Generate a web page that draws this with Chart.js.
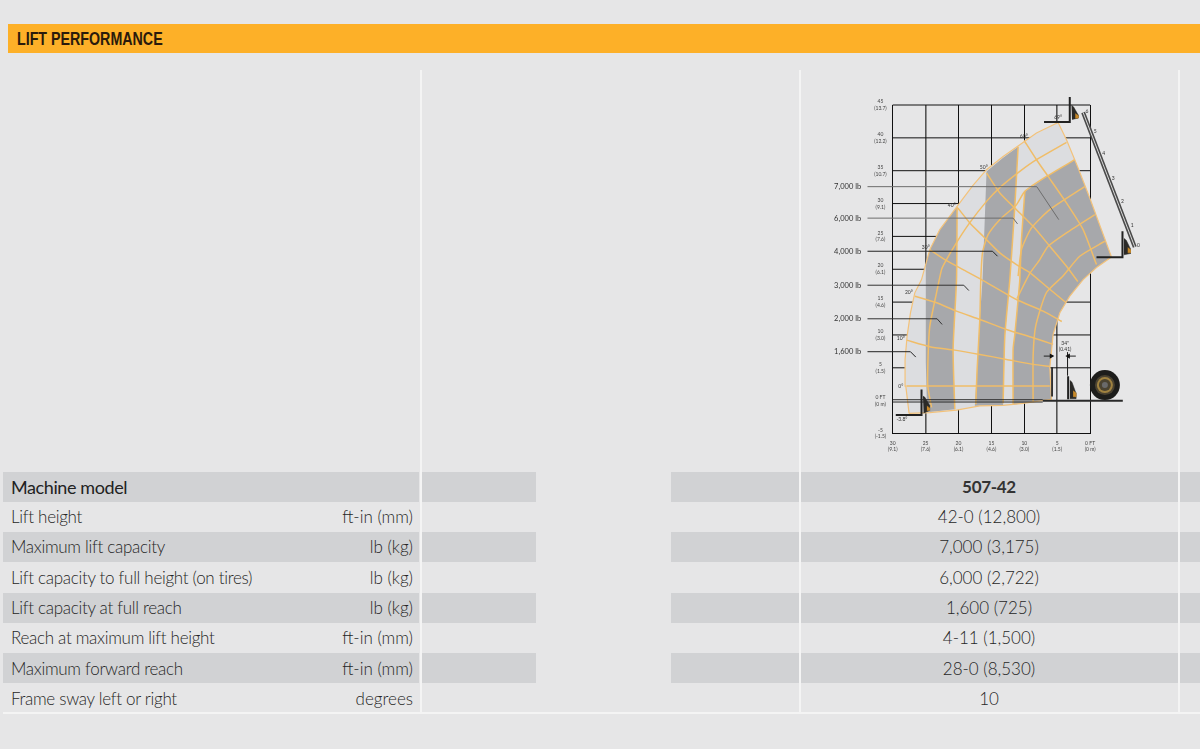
<!DOCTYPE html>
<html>
<head>
<meta charset="utf-8">
<style>
  html, body { margin: 0; padding: 0; width: 1200px; height: 749px; overflow: hidden; background: #e6e6e7; }
  #page { position: relative; width: 1200px; height: 749px; font-family: Lato, sans-serif; color: #262626; }
  #page div { position: absolute; white-space: nowrap; }
  .title { left: 8px; top: 24px; width: 1192px; height: 29px; background: #fdb028; }
  .title span { position: absolute; left: 9px; top: 4px; font: bold 19px "Liberation Sans", sans-serif; color: #2a1a0c; transform: scaleX(0.75); transform-origin: left center; }
  .stripe { background: #d1d2d4; height: 30px; }
  .vline { background: #f4f4f4; width: 2px; top: 70px; height: 643px; }
  canvas { position: absolute; left: 820px; top: 90px; }
</style>
<script src="https://cdn.jsdelivr.net/npm/chart.js@4"></script>
</head>
<body>
<div id="page">
  <div class="title"><span>LIFT PERFORMANCE</span></div>
  <canvas id="liftChart" width="380" height="370"></canvas>
</div>
<script>
// spec table
const rowLabels = ['Machine model', 'Lift height', 'Maximum lift capacity', 'Lift capacity to full height (on tires)',
    'Lift capacity at full reach', 'Reach at maximum lift height', 'Maximum forward reach', 'Frame sway left or right'];
const rowUnits = ['', 'ft-in (mm)', 'lb (kg)', 'lb (kg)', 'lb (kg)', 'ft-in (mm)', 'ft-in (mm)', 'degrees'];
const rowValues = ['507-42', '42-0 (12,800)', '7,000 (3,175)', '6,000 (2,722)', '1,600 (725)', '4-11 (1,500)', '28-0 (8,530)', '10'];

// axis ticks, feet with metres below
const xTickFeet = [30, 25, 20, 15, 10, 5, 0];
const xTickTop = ['30', '25', '20', '15', '10', '5', '0 FT'];
const xTickBottom = ['(9.1)', '(7.6)', '(6.1)', '(4.6)', '(3.0)', '(1.5)', '(0 m)'];
const yTickFeet = [45, 40, 35, 30, 25, 20, 15, 10, 5, 0, -5];
const yTickTop = ['45', '40', '35', '30', '25', '20', '15', '10', '5', '0 FT', '-5'];
const yTickBottom = ['(13.7)', '(12.2)', '(10.7)', '(9.1)', '(7.6)', '(6.1)', '(4.6)', '(3.0)', '(1.5)', '(0 m)', '(-1.5)'];

// all shapes below are [reach ft, height ft]
const envelope = [[27.51,-1.93],[28.01,2.22],[28.12,6.28],[27.81,9.82],[27.30,13.37],[26.64,16.41],[25.62,18.43],[24.36,22.99],
    [22.84,26.03],[20.21,29.57],[17.83,32.72],[15.74,35.15],[13.22,37.17],[10.68,38.95],[8.15,40.73],[4.86,42.34],
    [3.59,39.71],[1.82,35.41],[0.05,30.85],[-3.25,21.85],[-0.97,20.26],[1.06,18.43],[3.09,15.9],[4.6,13.37],[5.62,10.08],
    [6.12,5.02],[5.87,0.2],[10.18,-0.41],[13.22,-0.71],[16.76,-0.79],[20.3,-1.43],[24.36,-1.82]];
const band1 = [[24.97,20.71],[24.36,22.99],[22.84,26.03],[20.21,29.53],[20.3,18.43],[20.82,7.8],[20.56,-1.32],[24.77,-1.78],[24.97,5.82]];
const band2 = [[15.74,34.89],[13.22,36.98],[10.94,38.65],[11.44,29.57],[12.2,18.43],[12.96,9.82],[13.22,-0.71],[17.52,-0.79],[17.17,4.76],[16.76,12.36],[16.35,18.43]];
const band3 = [[9.92,31.85],[6.63,34.13],[2.33,36.67],[1.82,35.41],[0.05,30.85],[-3.25,21.85],[-0.97,20.26],[1.06,18.43],[3.09,15.9],[4.6,13.37],
    [5.62,10.08],[6.12,5.02],[5.87,0.2],[11.7,-0.64],[11.7,7.8],[11.44,10.08],[10.94,15.4],[10.68,18.43],[10.43,24.51]];

// boom angle lines
const angleLines = [
    [[27.9,2.22],[6.12,2.22]],
    [[27.9,9.21],[24.36,8.21],[20.56,7.69],[16.76,7.04],[12.71,6.28],[8.66,5.52],[6.12,5.21]],
    [[26.64,15.9],[23.34,14.89],[20.3,13.62],[16.76,12.36],[12.71,10.84],[8.66,9.57],[5.62,8.56]],
    [[24.36,22.99],[22.08,21.47],[19.3,19.95],[16.5,18.43],[11.19,15.4],[7.14,13.62],[4.3,12.05]],
    [[20.11,29.33],[18.28,27.05],[16.26,25.02],[13.72,22.49],[11.19,20.71],[9.16,19.5],[6.63,17.37],[3.69,14.94]],
    [[15.74,34.65],[13.72,31.61],[11.19,29.07],[8.66,26.53],[6.12,23.5],[3.59,20.46],[1.87,18.13]],
    [[10.03,39.6],[8.15,36.67],[6.38,34.13],[3.59,30.09],[1.06,26.03],[-0.97,20.71]]
];
// boom extension arcs and band edges
const extensionArcs = [
    [[24.1,-1.02],[24.67,2.22],[24.62,6.78],[24.36,11.34],[23.34,16.41],[22.58,19.95],[22.08,21.02],[20.3,24.06],[18.28,27.1],[15.74,30.33],[13.72,32.42],[10.68,34.89],[8.15,36.67],[3.59,39.3]],
    [[2.33,36.67],[6.63,34.13],[9.92,31.85],[11.19,29.83],[13.72,27.55],[15.5,25.27],[16.35,22.54],[16.61,18.43],[16.76,12.36],[17.17,4.76],[17.37,-0.55]],
    [[10.94,18.94],[10.43,22.99],[8.91,26.29],[6.12,29.07],[0.81,32.57]],
    [[11.1,15.56],[9.16,19.36],[7.64,21.47],[6.38,23.5],[3.59,25.53],[-0.71,28.31]],
    [[8.66,-0.26],[8.66,6.78],[8.27,11.34],[6.63,16.46],[4.15,18.94],[1.57,21.98],[-2.23,24.26]],
    [[20.21,29.53],[20.3,18.43],[20.82,7.8],[20.56,-1.32]],
    [[10.94,38.65],[11.44,29.57],[12.2,18.43],[12.96,9.82],[13.22,-0.41]],
    [[9.92,31.85],[10.43,24.51],[10.68,18.43],[10.94,15.4],[11.44,10.08],[11.7,7.8],[11.7,-0.64]]
];

// capacity callouts: label, leader from the left, corner, end
const capacityLabels = ['7,000 lb', '6,000 lb', '4,000 lb', '3,000 lb', '2,000 lb', '1,600 lb'];
const capacityLeaders = [
    [[33.83,32.57],[8.1,32.57],[4.76,27.55]],
    [[33.83,27.78],[11.7,27.78],[11.03,26.9]],
    [[33.83,22.74],[14.83,22.74],[14.07,21.98]],
    [[33.83,17.57],[19.2,17.57],[18.43,16.76]],
    [[33.83,12.46],[23.25,12.46],[22.49,11.6]],
    [[33.83,7.45],[27.3,7.45],[26.49,6.63]]
];
const capacityColors = ['#6d6d6d', '#6d6d6d', '#222', '#333', '#333', '#222'];

const angleTexts = ['69°', '60°', '50°', '40°', '30°', '20°', '10°', '0°', '-3.8°'];
const anglePoints = [[4.86,43.1],[10.08,40.17],[16.16,35.46],[21.02,29.68],[24.97,23.3],[27.55,16.46],[28.77,9.47],[28.77,2.17],[28.6,-2.84]];
const ladderTexts = ['6', '5', '4', '3', '2', '1', '0'];
const ladderPoints = [[0.46,44.0],[-0.76,41.04],[-2.08,37.6],[-3.5,33.9],[-4.9,30.3],[-6.4,26.6],[-7.35,23.6]];
const ladderLine = [[1.06,43.86],[-6.79,23.4]];
const noteTexts = ['34"', '(0.41)'];
const notePoints = [[3.8,8.7],[3.8,7.87]];

// forks: L shape, then carriage block and its tip
const forks = [
    [[29.53,-2.17],[25.62,-2.17],[25.62,1.71]],
    [[7.0,42.4],[3.09,42.4],[3.09,46.2]],
    [[-0.97,21.82],[-4.92,21.82],[-4.92,25.77]],
    [[3.34,3.7],[3.34,0.2]]
];
const carriages = [
    [[25.4,0.7],[25.1,0.5],[24.4,-0.7],[24.4,-1.5],[25.3,-1.9]],
    [[2.83,45.0],[2.5,44.7],[1.82,43.5],[1.82,43.0],[2.75,42.8]],
    [[-5.14,24.7],[-5.5,24.4],[-6.14,23.1],[-6.14,22.4],[-5.14,22.2]],
    [[3.08,3.1],[2.75,2.8],[2.17,1.2],[2.17,0.3],[3.08,0.3]]
];
const carriageTips = [
    [[24.8,-0.8],[24.4,-1.1],[24.4,-1.5],[24.8,-1.5]],
    [[2.25,43.7],[1.82,43.4],[1.82,43.0],[2.25,43.0]],
    [[-5.72,23.3],[-6.14,23.0],[-6.14,22.5],[-5.72,22.5]],
    [[2.58,1.5],[2.17,1.2],[2.17,0.6],[2.58,0.6]]
];

const groundLeft = [[[30,0.14],[7.2,0.14]], [[30,-0.21],[7.2,-0.21]]];
const groundRight = [[7.2,-0.02],[-4.97,-0.02]];
const clearanceLines = [[[5.78,5.06],[5.78,0.65]], [[3.43,7.34],[3.43,3.85]], [[7.04,6.78],[5.66,6.78]], [[3.46,6.78],[2.17,6.78]]];
const clearanceArrows = [[5.9,6.78,90],[3.3,6.78,-90]];
const wheelCentre = [-2.25,2.37];

// table
const page = document.getElementById('page');
function addDiv(css, text, cls) {
    const el = document.createElement('div');
    el.style.cssText = css;
    if (cls) el.className = cls;
    if (text) el.textContent = text;
    page.appendChild(el);
}
const rowTops = [471.5, 501.5, 531.5, 562, 592.5, 622.5, 653, 683.5];
rowLabels.forEach((label, i) => {
    if (i % 2 === 0 && i < 7) {
        [[3, 416], [422, 114], [671, 128], [801, 377], [1180, 20]].forEach(s =>
            addDiv('left:' + s[0] + 'px;width:' + s[1] + 'px;top:' + rowTops[i] + 'px', '', 'stripe'));
    }
});
[420, 799, 1178].forEach(x => addDiv('left:' + x + 'px', '', 'vline'));
addDiv('left:3px;top:712px;width:1197px;height:2px;background:#f4f4f4');
rowLabels.forEach((label, i) => {
    const top = 'top:' + (rowTops[i] + 3.5) + 'px;line-height:24px;';
    addDiv(top + (i === 0 ? 'font-size:18px;letter-spacing:-0.4px;font-weight:400;color:#222;' : 'font-size:17px;letter-spacing:-0.3px;font-weight:300;') + 'left:11px', label);
    addDiv(top + 'font-size:17px;font-weight:300;right:787px', rowUnits[i]);
    addDiv(top + (i === 0 ? 'font-size:17px;letter-spacing:-0.3px;font-weight:700;color:#333;' : 'font-size:17px;font-weight:300;') + 'left:889px;width:200px;text-align:center', rowValues[i]);
});

// chart
function toXY(pts) {
    return pts.map(p => ({ x: p[0], y: p[1] }));
}
function lineSet(pts, color, width, tension) {
    return { data: toXY(pts), showLine: true, borderColor: color, borderWidth: width, pointRadius: 0, tension: tension || 0, clip: false, fill: false };
}
function shapeSet(pts, color, border, width) {
    return { data: toXY(pts), showLine: true, backgroundColor: color, borderColor: border, borderWidth: width, pointRadius: 0, tension: 0, clip: false, fill: 'shape' };
}
function wheelSet(radius, color) {
    return { data: toXY([wheelCentre]), pointRadius: radius, pointBackgroundColor: color, pointBorderWidth: 0, clip: false };
}

const orange = '#f0bd68';
// first listed is drawn on top
const datasets = [];
clearanceArrows.forEach(a => datasets.push({ data: toXY([a]), pointStyle: 'triangle', pointRadius: 3, rotation: a[2], pointBackgroundColor: '#111', pointBorderWidth: 0, clip: false }));
clearanceLines.forEach(l => datasets.push(lineSet(l, '#222', 1)));
carriageTips.forEach(c => datasets.push(shapeSet(c, '#c98a2a', '#c98a2a', 0.5)));
carriages.forEach(c => datasets.push(shapeSet(c, '#2b2a28', '#2b2a28', 0.5)));
forks.forEach(f => datasets.push(lineSet(f, '#222', 2)));
datasets.push(wheelSet(3, '#6a6a6a'), wheelSet(6, '#4b4330'), wheelSet(8, '#a08240'), wheelSet(10, '#4a4231'), wheelSet(15, '#1d1d1b'));
datasets.push(lineSet(groundRight, '#2a2a2a', 2));
groundLeft.forEach(g => datasets.push(lineSet(g, '#2a2a2a', 1)));
datasets.push(lineSet(ladderLine, '#d8d8d8', 1));
datasets.push(lineSet(ladderLine, '#4a4a4a', 4));
capacityLeaders.forEach((l, i) => datasets.push(lineSet(l, capacityColors[i], 1)));
datasets.push(lineSet(envelope.concat([envelope[0]]), '#f3c27a', 1.2));
extensionArcs.forEach(a => datasets.push(lineSet(a, orange, 1.5, 0.2)));
angleLines.forEach(a => datasets.push(lineSet(a, orange, 1.5, 0.2)));
datasets.push(shapeSet(band3, '#a7a8ab', 'transparent', 0));
datasets.push(shapeSet(band2, '#a7a8ab', 'transparent', 0));
datasets.push(shapeSet(band1, '#a7a8ab', 'transparent', 0));
datasets.push(shapeSet(envelope, '#dcdde0', 'transparent', 0));
// horizontal grid stops at 0 ft, the x scale runs on past it for the boom and the wheel
yTickFeet.filter(v => v !== 0).forEach(v => datasets.push(lineSet([[30, v], [0, v]], '#111', 1)));

const diagramText = {
    id: 'diagramText',
    afterDatasetsDraw(chart) {
        const ctx = chart.ctx, sx = chart.scales.x, sy = chart.scales.y;
        ctx.save();
        ctx.textBaseline = 'middle';
        ctx.fillStyle = '#333';
        ctx.textAlign = 'right';
        ctx.font = '7.5px Lato';
        capacityLabels.forEach((t, i) => ctx.fillText(t, sx.getPixelForValue(34.8), sy.getPixelForValue(capacityLeaders[i][0][1])));
        ctx.textAlign = 'center';
        ctx.font = '5px Lato';
        angleTexts.forEach((t, i) => ctx.fillText(t, sx.getPixelForValue(anglePoints[i][0]), sy.getPixelForValue(anglePoints[i][1])));
        ladderTexts.forEach((t, i) => ctx.fillText(t, sx.getPixelForValue(ladderPoints[i][0]), sy.getPixelForValue(ladderPoints[i][1])));
        noteTexts.forEach((t, i) => ctx.fillText(t, sx.getPixelForValue(notePoints[i][0]), sy.getPixelForValue(notePoints[i][1])));
        ctx.restore();
    }
};

function gridWidth(ctx) {
    return ctx.tick && (ctx.tick.value === 25 || ctx.tick.value === 5) ? 1.6 : 1;
}
function gridColor(ctx) {
    if (!ctx.tick || xTickFeet.indexOf(ctx.tick.value) < 0) return 'transparent';
    return gridWidth(ctx) > 1 ? '#555' : '#111';
}

new Chart(document.getElementById('liftChart'), {
    type: 'scatter',
    data: { datasets: datasets },
    plugins: [diagramText],
    options: {
        responsive: false,
        animation: false,
        layout: { padding: { left: 32.7, top: 14.3, right: 57.26, bottom: 0.5 } },
        plugins: { legend: { display: false }, tooltip: { enabled: false } },
        scales: {
            x: {
                type: 'linear', min: -8, max: 30, reverse: true,
                afterFit(s) { s.height = 26; },
                grid: { color: gridColor, lineWidth: gridWidth, drawTicks: false },
                border: { display: false },
                ticks: {
                    stepSize: 5, padding: 7, maxRotation: 0, autoSkip: false, color: '#444', font: { size: 5, family: 'Lato', lineHeight: 1.2 },
                    callback: v => { const i = xTickFeet.indexOf(v); return i < 0 ? '' : [xTickTop[i], xTickBottom[i]]; }
                }
            },
            y: {
                type: 'linear', min: -5, max: 45,
                afterFit(s) { s.width = 40; },
                grid: { display: false, drawTicks: false },
                border: { color: '#111', width: 1 },
                ticks: {
                    stepSize: 5, padding: 6, crossAlign: 'center', autoSkip: false, color: '#444', font: { size: 5, family: 'Lato', lineHeight: 1.35 },
                    callback: v => { const i = yTickFeet.indexOf(v); return i < 0 ? '' : [yTickTop[i], yTickBottom[i]]; }
                }
            }
        }
    }
});
</script>
</body>
</html>
